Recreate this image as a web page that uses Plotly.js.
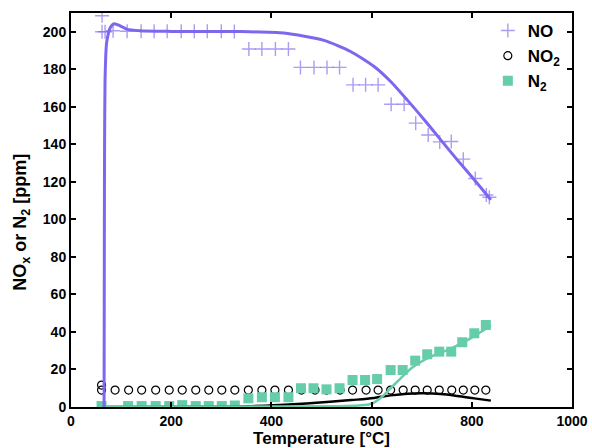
<!DOCTYPE html>
<html>
<head>
<meta charset="utf-8">
<script src="https://cdn.plot.ly/plotly-3.0.1.min.js"></script>
<style>html,body{margin:0;padding:0;background:#fff}#chart{width:592px;height:448px}</style>
</head>
<body>
<div id="chart"></div>
<script>
// Measured data (markers)
var noT   = [62, 62, 68, 84, 112, 140, 166, 192, 220, 246, 272, 300, 326, 355, 381, 408, 434, 458, 485, 511, 536, 563, 588, 613, 639, 665, 688, 713, 736, 759, 783, 807, 829, 835];
var noPpm = [208.5, 200, 200, 200.5, 200.3, 200.3, 200.3, 200.3, 200.3, 200.3, 200.3, 200.3, 200.2, 190.8, 190.8, 190.8, 190.8, 181, 181, 181, 181, 171.7, 171.7, 171.7, 161.4, 161.4, 151.3, 145, 141.3, 141.5, 132.1, 121.8, 113, 111.8];

var no2T   = [61, 61, 88, 115, 141, 169, 196, 222, 249, 275, 301, 327, 354, 381, 407, 434, 460, 487, 510, 537, 562, 589, 613, 638, 663, 687, 711, 735, 760, 783, 806, 828];
var no2Ppm = [11.7, 9, 9, 9, 9, 9, 9, 9, 9, 9, 9, 9, 9, 9, 9, 9, 9, 9, 9, 9, 9, 9, 9, 9, 9, 9, 9, 9, 9, 9, 9, 9];

var n2T   = [61, 114, 141, 169, 196, 222, 249, 275, 301, 327, 354, 381, 407, 434, 459, 484, 510, 536, 562, 587, 611, 638, 662, 687, 711, 735, 759, 781, 805, 828];
var n2Ppm = [0.5, 0.5, 0.5, 0.5, 0.5, 1, 0.5, 0.5, 0.5, 0.8, 4.6, 5.2, 5.2, 5.2, 10, 10, 9.4, 10, 14.4, 14.4, 14.9, 19.7, 19.7, 24.7, 28.1, 29.5, 29.5, 34.5, 39.3, 43.7];

// Model curves
var noModelT   = [66, 66.5, 67, 68, 69.5, 71, 75, 78, 86, 98, 111, 138, 200, 300, 338, 425, 505, 558, 605, 638, 671, 705, 738, 771, 805, 838];
var noModelPpm = [0, 80, 140, 175, 188, 194, 199.5, 202, 204.3, 203.2, 201.4, 200.5, 200.2, 200.1, 200.1, 199.3, 195.4, 189.5, 181.5, 173.5, 163.7, 153.1, 142.4, 131.7, 121.1, 110.4];

var no2ModelT   = [62, 250, 350, 417, 470, 517, 560, 605, 638, 671, 704, 738, 771, 805, 838];
var no2ModelPpm = [0, 0.1, 0.4, 1.1, 1.9, 2.8, 3.7, 4.8, 6.2, 7.1, 7.3, 6.9, 5.9, 4.6, 3.4];

var n2ModelT   = [62, 400, 550, 580, 598, 618, 638, 658, 678, 698, 725, 758, 791, 818, 838];
var n2ModelPpm = [0.3, 0.3, 0.5, 0.9, 1.6, 4.8, 10, 15.3, 20.4, 24, 27.6, 31.1, 35.6, 40, 43.5];

var xTicks = [0, 200, 400, 600, 800, 1000];
var yTicks = [0, 20, 40, 60, 80, 100, 120, 140, 160, 180, 200];

var purple = '#7b68ee', teal = '#66cdaa';
var FONT = 'Liberation Sans, Arial, Helvetica, sans-serif';

var traces = [
  {x: no2T, y: no2Ppm, name: 'NO<sub>2</sub>', mode: 'markers', type: 'scatter', legendrank: 2,
   marker: {symbol: 'circle-open', size: 8, color: '#000', line: {width: 1.2, color: '#000'}}},
  {x: n2T, y: n2Ppm, name: 'N<sub>2</sub>', mode: 'markers', type: 'scatter', legendrank: 3,
   marker: {symbol: 'square', size: 10, color: teal}},
  {x: noT, y: noPpm, name: 'NO', mode: 'markers', type: 'scatter', legendrank: 1,
   marker: {symbol: 'cross-thin-open', size: 10, color: 'rgba(123,104,238,0.65)', line: {width: 1.4, color: 'rgba(123,104,238,0.65)'}}},
  {x: no2ModelT, y: no2ModelPpm, mode: 'lines', type: 'scatter', showlegend: false,
   line: {color: '#000', width: 2.5, shape: 'spline'}},
  {x: n2ModelT, y: n2ModelPpm, mode: 'lines', type: 'scatter', showlegend: false,
   line: {color: teal, width: 2.5, shape: 'spline'}},
  {x: noModelT, y: noModelPpm, mode: 'lines', type: 'scatter', showlegend: false,
   line: {color: purple, width: 3, shape: 'spline', smoothing: 0.6}}
];

var axisCommon = {
  showline: true, linecolor: '#000', linewidth: 2, mirror: 'ticks',
  ticks: 'inside', ticklen: 5, tickwidth: 2, tickcolor: '#000',
  showgrid: false, zeroline: false,
  tickfont: {family: FONT, size: 14, color: '#000', weight: 'bold'}
};

var layout = {
  width: 592, height: 448,
  margin: {l: 71, r: 20, t: 13, b: 41},
  paper_bgcolor: '#fff', plot_bgcolor: '#fff',
  font: {family: FONT, color: '#000'},
  xaxis: Object.assign({}, axisCommon, {
    range: [0, 1000], tickvals: xTicks, ticktext: xTicks.map(String),
    title: {text: 'Temperature [°C]', font: {family: FONT, size: 17, color: '#000', weight: 'bold'}, standoff: 2}
  }),
  yaxis: Object.assign({}, axisCommon, {
    range: [0, 210], tickvals: yTicks, ticktext: yTicks.map(String)
  }),
  annotations: [{
    text: 'NO<sub>x</sub> or N<sub>2</sub> [ppm]', textangle: -90, showarrow: false,
    xref: 'paper', yref: 'paper', x: -0.098, y: 0.47, xanchor: 'center', yanchor: 'middle',
    font: {family: FONT, size: 18, color: '#000', weight: 'bold'}
  }],
  legend: {
    x: 0.832, y: 1, xanchor: 'left', yanchor: 'top',
    bgcolor: 'rgba(0,0,0,0)', borderwidth: 0,
    traceorder: 'normal',
    font: {family: FONT, size: 17, color: '#000', weight: 'bold'}
  },
  showlegend: true
};

Plotly.newPlot('chart', traces, layout, {displayModeBar: false, staticPlot: true});
</script>
</body>
</html>
